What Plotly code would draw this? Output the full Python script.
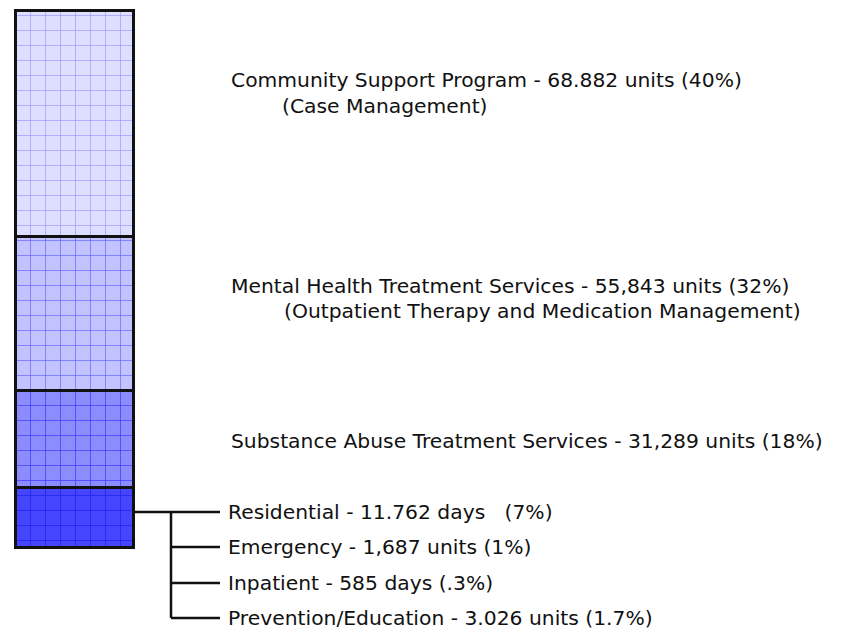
import plotly.graph_objects as go

# Segments from bottom to top (share of the bar as drawn)
segments = ["Other services", "Substance Abuse", "Mental Health", "Community Support"]
shares = [11.1, 18.0, 28.7, 42.2]
fill_colors = ["#4646ff", "#8c8cff", "#c2c2ff", "#dedeff"]
grid_colors = ["#1a1aee", "#2e2eff", "#5a5aff", "#9090ff"]

# Label texts
main_labels = [
    ("Community Support Program - 68.882 units (40%)", "(Case Management)"),
    ("Mental Health Treatment Services - 55,843 units (32%)",
     "(Outpatient Therapy and Medication Management)"),
    ("Substance Abuse Treatment Services - 31,289 units (18%)", None),
]
sub_labels = [
    "Residential - 11.762 days   (7%)",
    "Emergency - 1,687 units (1%)",
    "Inpatient - 585 days (.3%)",
    "Prevention/Education - 3.026 units (1.7%)",
]

W, H = 844, 632
OFF = 8  # page body margin
FONT = "DejaVu Sans"
FS = 20.3

fig = go.Figure()
for name, v, fc, gc in zip(segments, shares, fill_colors, grid_colors):
    fig.add_trace(go.Bar(
        x=[0], y=[v], width=1, name=name,
        marker=dict(
            color=fc,
            line=dict(color="#111111", width=3),
            pattern=dict(shape="+", bgcolor=fc, fgcolor=gc, size=15,
                         solidity=0.08, fillmode="replace"),
        ),
        hoverinfo="skip",
    ))

BAR_TOP, BAR_BOT = 10, 547
px_per_x = 118.0
x0 = -0.5 - (15 - OFF) / px_per_x
px_per_y = (BAR_BOT - BAR_TOP) / sum(shares)
y0 = -(H - (BAR_BOT - OFF)) / px_per_y
y1 = sum(shares) + (BAR_TOP - OFF) / px_per_y

def px(xp):
    return (xp - OFF) / W

def py(yp):
    return 1 - (yp - OFF) / H

ann = []
main_pos = [(80, 106, 280), (286, 311, 282), (441, None, None)]
for (l1, l2), (y1p, y2p, x2p) in zip(main_labels, main_pos):
    ann.append(dict(text=l1, x=px(229), y=py(y1p), xref="paper", yref="paper",
                    xanchor="left", yanchor="middle", showarrow=False,
                    font=dict(family=FONT, size=FS, color="#111111")))
    if l2:
        ann.append(dict(text=l2, x=px(x2p), y=py(y2p), xref="paper", yref="paper",
                        xanchor="left", yanchor="middle", showarrow=False,
                        font=dict(family=FONT, size=FS, color="#111111")))

branch_y = [512, 547, 583, 618]
for t, yp in zip(sub_labels, branch_y):
    ann.append(dict(text=t, x=px(226), y=py(yp), xref="paper", yref="paper",
                    xanchor="left", yanchor="middle", showarrow=False,
                    font=dict(family=FONT, size=FS, color="#111111")))

shapes = []
line = dict(color="#111111", width=2.5)
shapes.append(dict(type="line", xref="paper", yref="paper",
                   x0=px(133), x1=px(171), y0=py(branch_y[0]), y1=py(branch_y[0]), line=line))
shapes.append(dict(type="line", xref="paper", yref="paper",
                   x0=px(171), x1=px(171), y0=py(branch_y[0]), y1=py(branch_y[-1]), line=line))
for yp in branch_y:
    shapes.append(dict(type="line", xref="paper", yref="paper",
                       x0=px(171), x1=px(220), y0=py(yp), y1=py(yp), line=line))

fig.update_layout(
    width=W, height=H,
    margin=dict(l=0, r=0, t=0, b=0),
    paper_bgcolor="white", plot_bgcolor="white",
    barmode="stack", showlegend=False,
    xaxis=dict(range=[x0, x0 + W / px_per_x], visible=False, fixedrange=True),
    yaxis=dict(range=[y0, y1], visible=False, fixedrange=True),
    annotations=ann, shapes=shapes,
)

fig.write_html("out.html")
